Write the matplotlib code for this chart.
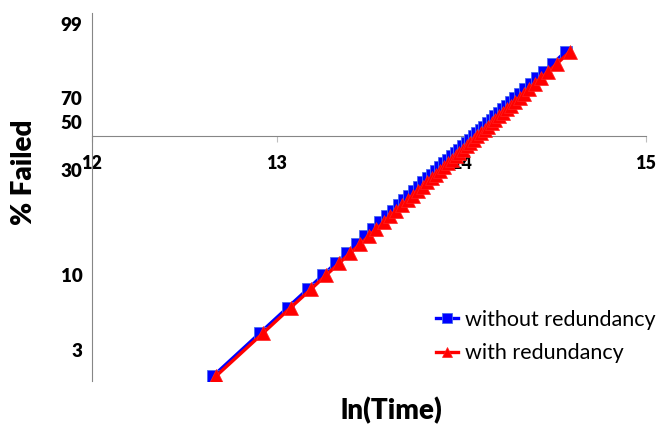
import numpy as np
import matplotlib
matplotlib.use('Agg')
import matplotlib.pyplot as plt

plt.rcParams['font.family'] = ['Lato', 'DejaVu Sans']

# Weibull 纵坐标 ln(-ln(1-F)), 50 个失效点
y_rank = [-3.922, -3.219, -2.803, -2.505, -2.271, -2.078, -1.913, -1.768, -1.639, -1.522,
          -1.415, -1.316, -1.223, -1.137, -1.055, -0.977, -0.903, -0.832, -0.763, -0.698,
          -0.634, -0.572, -0.511, -0.453, -0.395, -0.338, -0.283, -0.228, -0.173, -0.120,
          -0.066, -0.013, 0.041, 0.094, 0.148, 0.202, 0.257, 0.313, 0.369, 0.428,
          0.488, 0.551, 0.617, 0.686, 0.761, 0.843, 0.934, 1.041, 1.175, 1.369]

# ln(Time), 无冗余
x_without = [12.655, 12.909, 13.059, 13.167, 13.251, 13.321, 13.380, 13.433, 13.479, 13.521,
             13.560, 13.596, 13.629, 13.661, 13.690, 13.718, 13.745, 13.771, 13.795, 13.819,
             13.842, 13.864, 13.886, 13.908, 13.928, 13.949, 13.969, 13.989, 14.008, 14.028,
             14.047, 14.066, 14.086, 14.105, 14.124, 14.144, 14.164, 14.184, 14.204, 14.225,
             14.247, 14.270, 14.293, 14.319, 14.346, 14.375, 14.408, 14.447, 14.495, 14.565]

# ln(Time), 有冗余
x_with = [12.671, 12.926, 13.076, 13.185, 13.269, 13.339, 13.398, 13.452, 13.498, 13.540,
          13.579, 13.615, 13.648, 13.681, 13.710, 13.738, 13.765, 13.791, 13.815, 13.839,
          13.862, 13.884, 13.906, 13.929, 13.949, 13.970, 13.990, 14.010, 14.029, 14.049,
          14.068, 14.087, 14.107, 14.126, 14.145, 14.165, 14.185, 14.206, 14.226, 14.247,
          14.269, 14.292, 14.315, 14.341, 14.368, 14.397, 14.430, 14.469, 14.518, 14.588]

pct_labels = ['99', '70', '50', '30', '10', '3']
x_ticks = [12, 13, 14, 15]

# 百分比标签在图中的纵向位置 (手工摆放)
pct_pos = [1.82, 0.62, 0.228, -0.557, -2.264, -3.495]

fig = plt.figure(figsize=(6.72, 4.30), dpi=100)
ax = fig.add_axes([92 / 672, 49 / 430, 554 / 672, 368 / 430])

ax.plot(x_without, y_rank, color='#0000FF', linewidth=2.4, marker='s', markersize=8.4,
        markeredgecolor='#4A6CF0', markeredgewidth=0.6, label='without redundancy', zorder=3)
ax.plot(x_with, y_rank, color='#FF0000', linewidth=2.4, marker='^', markersize=9.5,
        markeredgecolor='#FF2020', markeredgewidth=0.5, label='with redundancy', zorder=4)

ax.set_xlim(12, 15)
ax.set_ylim(-4, 2)

for s in ['top', 'right']:
    ax.spines[s].set_visible(False)
ax.spines['left'].set_color('#868686')
ax.spines['bottom'].set_color('#868686')
ax.spines['bottom'].set_position(('data', 0))

ax.set_xticks(x_ticks)
ax.set_xticklabels([str(t) for t in x_ticks], fontsize=13, fontweight='heavy')
ax.tick_params(axis='x', direction='out', length=4, color='#BFBFBF', pad=10)
ax.set_yticks(pct_pos)
ax.set_yticklabels(pct_labels, fontsize=13.5, fontweight='heavy')
ax.tick_params(axis='y', length=0, pad=7)

ax.set_ylabel('% Failed', fontsize=20, fontweight='heavy')
ax.yaxis.set_label_coords(-0.099, 0.568)
ax.set_xlabel('ln(Time)', fontsize=20, fontweight='heavy')
ax.xaxis.label.set_va('center')
ax.xaxis.set_label_coords(0.54, -0.079)

ax.legend(loc='upper left', bbox_to_anchor=(436 / 672, 1 - 310 / 430),
          bbox_transform=fig.transFigure, frameon=False, fontsize=15.5,
          handlelength=1.0, handletextpad=0.35, borderpad=0, borderaxespad=0,
          labelspacing=0.62, markerscale=0.8)

fig.savefig('out.png', dpi=100)
